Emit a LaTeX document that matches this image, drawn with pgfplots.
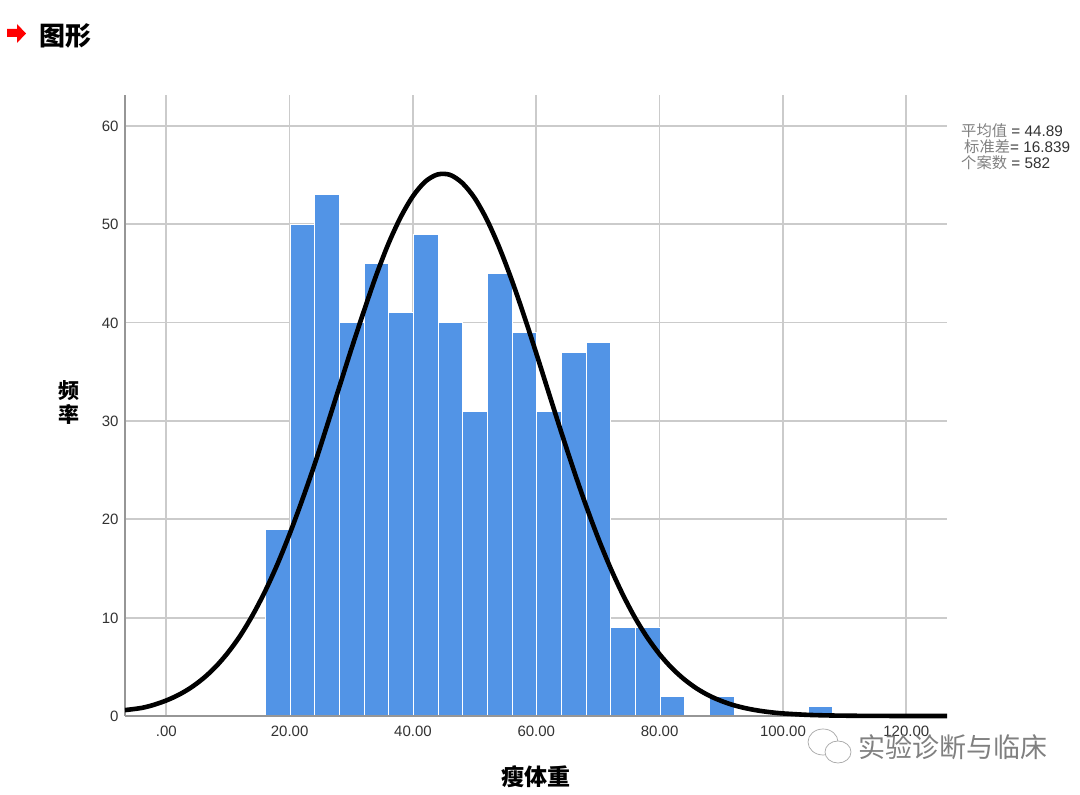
\documentclass[border=0pt]{standalone}
\usepackage{fontspec}
\setmainfont{Liberation Sans}
\newfontfamily\cjk{Noto Sans CJK SC}
\usepackage{pgfplots}
\pgfplotsset{compat=1.18}
\definecolor{barblue}{RGB}{82,148,230}
\definecolor{gridgray}{RGB}{203,203,203}
\definecolor{axisgray}{RGB}{150,150,150}
\definecolor{ticktext}{RGB}{50,50,50}

\begin{document}
\begin{tikzpicture}[x=1pt,y=1pt]
\path[use as bounding box] (0,0) rectangle (1080,795);

% heading
\fill[red] (7,758) -- (17,758) -- (17,752) -- (26,761.5) -- (17,771) -- (17,766) -- (7,766) -- cycle;
\node[anchor=center,font={\cjk\bfseries\fontsize{26}{26}\selectfont}] at (65,759) {图形};

\begin{axis}[
  at={(125pt,79pt)},
  anchor=south west,
  scale only axis,
  width=822pt,
  height=621pt,
  xmin=-6.7, xmax=126.6,
  ymin=0, ymax=63.15,
  clip=false,
  axis lines=left,
  axis line style={draw=axisgray,line width=2.2pt,-},
  xtick={0,20,40,60,80,100,120},
  xticklabels={.00,20.00,40.00,60.00,80.00,100.00,120.00},
  ytick={0,10,20,30,40,50,60},
  major tick length=0pt,
  grid=major,
  grid style={draw=gridgray,line width=1.7pt},
  tick label style={font=\fontsize{15}{15}\selectfont,text=ticktext},
  /pgf/number format/assume math mode=true,
  xticklabel style={yshift=-6.5pt},
  yticklabel style={xshift=-3pt,yshift=-0.5pt},
  xlabel={\cjk\bfseries 瘦体重},
  xlabel style={font=\fontsize{23}{23}\selectfont,at={(axis description cs:0.5,-0.097)},anchor=center},
  ylabel={\cjk\bfseries 频\\[3pt]\cjk\bfseries 率},
  ylabel style={font=\fontsize{21}{21}\selectfont,rotate=-90,align=center,at={(axis description cs:-0.068,0.505)},anchor=center},
]
\addplot[ybar interval,fill=barblue,draw=white,line width=1.1pt] coordinates {
  (16.1,19) (20.1,50) (24.1,53) (28.1,40) (32.1,46) (36.1,41) (40.1,49) (44.1,40)
  (48.1,31) (52.1,45) (56.1,39) (60.1,31) (64.1,37) (68.1,38) (72.1,9) (76.1,9)
  (80.1,2) (84.1,2)
};
\addplot[ybar interval,fill=barblue,draw=white,line width=1.1pt] coordinates {
  (88.1,2) (92.1,2)
};
\addplot[ybar interval,fill=barblue,draw=white,line width=1.1pt] coordinates {
  (104.1,1) (108.1,1)
};
% bars' white outline would hide the baseline
\draw[axisgray,line width=2.2pt] (rel axis cs:0,0) -- (rel axis cs:1,0);
\addplot[black,line width=4.6pt,smooth,no markers,line cap=butt] coordinates {
  (-6.7,0.6) (-4,0.82) (-2,1.14) (0,1.58) (2,2.15) (4,2.89) (6,3.83) (8,5.00)
  (10,6.45) (12,8.18) (14,10.26) (16,12.66) (18,15.41) (20,18.51) (22,21.9)
  (24,25.5) (26,29.4) (28,33.35) (30,37.3) (32,41.1) (34,44.75) (36,48.0)
  (38,50.72) (40,52.87) (42,54.35) (44,55.07) (46,55.03) (48,54.2) (50,52.67)
  (52,50.45) (54,47.64) (56,44.36) (58,40.73) (60,36.87) (62,32.9) (64,28.96)
  (66,25.13) (68,21.5) (70,18.14) (72,15.09) (74,12.38) (76,10.0) (78,7.98)
  (80,6.27) (82,4.86) (84,3.72) (86,2.80) (88,2.08) (90,1.53) (92,1.10)
  (94,0.785) (96,0.55) (98,0.38) (100,0.26) (104,0.116) (108,0.049) (112,0.02)
  (116,0.007) (120,0.002) (126.6,0)
};
\end{axis}

% statistics beside the plot
\begin{scope}[every node/.style={anchor=west,inner sep=0pt,text=ticktext,font=\fontsize{15.3}{15.3}\selectfont}]
\node at (961,664) {{\cjk\color{gray}平均值} = 44.89};
\node at (964,648) {{\cjk\color{gray}标准差}= 16.839};
\node at (961,632) {{\cjk\color{gray}个案数} = 582};
\end{scope}

% watermark
\begin{scope}[draw=gray!70,fill=white,line width=0.7pt]
\filldraw (823,53) ellipse (15 and 13);
\filldraw (838,43) ellipse (13 and 11);
\end{scope}
\node[anchor=west,inner sep=0pt,text=gray,font={\cjk\fontsize{27}{27}\selectfont}] at (858,48) {实验诊断与临床};
\end{tikzpicture}
\end{document}
